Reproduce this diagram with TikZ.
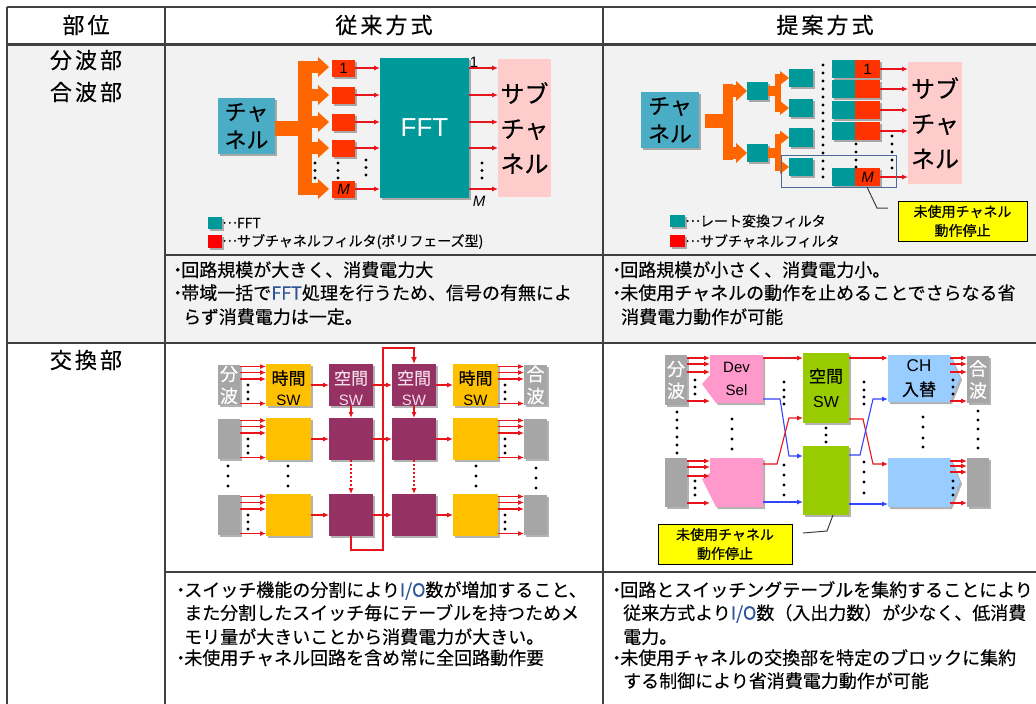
\documentclass[tikz,border=0pt]{standalone}
\usepackage{fontspec}
\setmainfont{Noto Sans CJK JP}[FakeBold=0.35]
\newfontfamily\hdrfont{Noto Sans CJK JP}[LetterSpace=14,FakeBold=0.35]
\newfontfamily\lat{Liberation Sans}
\usetikzlibrary{arrows.meta,shadows}
\definecolor{chanblue}{HTML}{4BACC6}
\definecolor{tealc}{HTML}{009999}
\definecolor{redbox}{HTML}{FF3300}
\definecolor{orng}{HTML}{FF6600}
\definecolor{pinkc}{HTML}{FFCCCC}
\definecolor{arrred}{HTML}{E8141C}
\definecolor{arrblue}{HTML}{3344FF}
\definecolor{timec}{HTML}{FFC000}
\definecolor{spacec}{HTML}{953163}
\definecolor{spacetxt}{HTML}{F4DCE8}
\definecolor{grayc}{HTML}{A6A6A6}
\definecolor{greenc}{HTML}{99CC00}
\definecolor{devc}{HTML}{FF99CC}
\definecolor{chc}{HTML}{99CCFF}
\definecolor{yel}{HTML}{FFFF00}
\definecolor{bgg}{HTML}{F2F2F2}
\definecolor{linec}{HTML}{404040}
\definecolor{selc}{HTML}{4A6A9A}
\definecolor{iotxt}{HTML}{2F5597}
\newcommand\boxat[7]{\node[#1,minimum width={(#5)-(#3)},minimum height={(#6)-(#4)}] (#2) at ({((#3)+(#5))/2},{((#4)+(#6))/2}) {#7};}
\newcommand\dotcol[2]{\foreach \yy in {#2}{\fill[black] (#1,\yy) circle (1.7pt);}}
\newcommand\bul{\kern-0.25em・\kern-0.3em}
\newcommand\mell{\raisebox{0.32em}{…}}
\newcommand\fs[2]{\fontsize{#1pt}{#2pt}\selectfont}
\tikzset{
  bx/.style={inner sep=0pt,outer sep=0pt,align=center},
  sh/.style={drop shadow={shadow xshift=2pt,shadow yshift=-2pt,opacity=0.3,fill=black}},
  arr/.style={draw=arrred,line width=1.1pt,-{Latex[length=6pt,width=5pt]}},
  barr/.style={draw=arrblue,line width=1.1pt,-{Latex[length=6pt,width=5pt]}},
  txt/.style={inner sep=0pt,anchor=base west,font=\fs{18}{21}},
  hdr/.style={inner sep=0pt,font=\hdrfont\fs{22}{32},align=center},
  lab/.style={inner sep=0pt,align=center},
}
\begin{document}
\begin{tikzpicture}[x=1pt,y=-1pt]
\useasboundingbox (0,0) rectangle (1036,704);
\fill[white] (0,0) rectangle (1036,704);
\fill[bgg] (7,44) rectangle (1040,343);
% table lines
\draw[linec,line width=1.5pt] (7,7) -- (1040,7);
\draw[linec,line width=3pt] (7,44) -- (1040,44);
\draw[linec,line width=1.2pt] (165,255) -- (1040,255);
\draw[linec,line width=1.5pt] (7,343) -- (1040,343);
\draw[linec,line width=1.2pt] (165,572) -- (1040,572);
\draw[linec,line width=1.5pt] (7,7) -- (7,710);
\draw[linec,line width=1.5pt] (165,7) -- (165,710);
\draw[linec,line width=1.5pt] (603,7) -- (603,710);
% headers
\node[hdr] (h1) at (86,25) {部位};
\node[hdr] (h2) at (384,25) {従来方式};
\node[hdr] (h3) at (825,25) {提案方式};
\node[hdr] (r1) at (86,76) {分波部\\合波部};
\node[hdr] (r2) at (86,360) {交換部};

% ===== upper left: conventional demux =====
\boxat{bx,fill=chanblue,sh,font=\fs{22}{28}}{ch1}{218}{98}{275}{154}{チャ\\ネル}
\fill[orng] (ch1.east |- 0,121) rectangle (312,136);
\fill[orng] (298,61) rectangle (312,195);
\foreach \yl in {67,95,122,148,189}{
  \fill[orng] (311,\yl-6) rectangle (318,\yl+6);
  \fill[orng] (318,\yl-10) -- (329,\yl) -- (318,\yl+10) -- cycle;
}
\boxat{bx,fill=tealc,sh,text=white,font=\lat\fs{26}{28}}{fft}{380}{58}{469}{198}{FFT}
\boxat{bx,fill=pinkc,font=\fs{24}{35}}{sub1}{498}{59}{551}{197}{サブ\\チャ\\ネル}
\foreach \yl/\nm/\tx in {68/f1/1,95/f2/,122/f3/,148/f4/,189/fM/\textit{M}}{
  \boxat{bx,fill=redbox,sh,font=\lat\fs{15}{16}}{\nm}{332}{\yl-8.5}{355}{\yl+8.5}{\tx}
  \draw[arr] (\nm.east) -- (fft.west |- \nm.east);
  \draw[arr] (fft.east |- \nm.east) -- (sub1.west |- \nm.east);
}
\node[lab,font=\lat\fs{15}{16}] (o1) at (474,62) {1};
\node[lab,font=\lat\fs{15}{16}] (oM) at (479,201) {\textit{M}};
\dotcol{315}{163,170.5,178}
\dotcol{338}{163,170.5,178}
\dotcol{366}{160,167.5,175}
\dotcol{482}{163,170.5,178}
\boxat{bx,fill=tealc,sh}{lg1}{208}{217}{222}{229}{}
\node[inner sep=0pt,anchor=west,font=\fs{14}{16}] (lg1t) at (lg1.east) {\mell FFT};
\boxat{bx,fill=red,sh}{lg2}{208}{235}{222}{248}{}
\node[inner sep=0pt,anchor=west,font=\fs{14}{16}] (lg2t) at (lg2.east) {\mell サブチャネルフィルタ(ポリフェーズ型)};

% ===== upper right: proposed demux =====
\boxat{bx,fill=chanblue,sh,font=\fs{22}{28}}{ch2}{641}{92}{699}{148}{チャ\\ネル}
\fill[orng] (705,114) rectangle (733,128);
\fill[orng] (723,84) rectangle (733,160);
\foreach \yl in {91,153}{
  \fill[orng] (732,\yl-6) rectangle (736,\yl+6);
  \fill[orng] (736,\yl-10) -- (747,\yl) -- (736,\yl+10) -- cycle;
}
\boxat{bx,fill=tealc,sh}{a1}{747}{82}{768}{100}{}
\boxat{bx,fill=tealc,sh}{a2}{747}{144}{768}{162}{}
\foreach \ya/\yb/\yc in {91/78/108,153/137.5/167}{
  \fill[orng] (768,\ya-5) rectangle (781,\ya+5);
  \fill[orng] (775,\yb-4) rectangle (781,\yc+4);
  \fill[orng] (780,\yb-7) -- (789,\yb) -- (780,\yb+7) -- cycle;
  \fill[orng] (780,\yc-7) -- (789,\yc) -- (780,\yc+7) -- cycle;
}
\boxat{bx,fill=tealc,sh}{b1}{789}{69}{813}{87}{}
\boxat{bx,fill=tealc,sh}{b2}{789}{99}{813}{117}{}
\boxat{bx,fill=tealc,sh}{b3}{789}{128}{813}{147}{}
\boxat{bx,fill=tealc,sh}{b4}{789}{158}{813}{176}{}
\dotcol{823}{65,73,...,178}
\boxat{bx,fill=pinkc,font=\fs{24}{35}}{sub2}{908}{62}{962}{184}{サブ\\チャ\\ネル}
\foreach \i/\ya/\yb/\tx in {1/60/78/1,2/80/98/,3/101/119/,4/122/140/,5/168/186/\textit{M}}{
  \boxat{bx,fill=tealc,sh}{s\i}{832}{\ya}{855}{\yb}{}
  \boxat{bx,fill=redbox,sh,font=\lat\fs{15}{16}}{q\i}{855}{\ya}{880}{\yb}{\tx}
  \draw[arr] (q\i.east) -- (sub2.west |- q\i.east);
}
\dotcol{856}{144,152,160,167}
\dotcol{892}{136,144,152,160,168}
\boxat{bx,draw=selc,line width=1pt}{sel}{781}{155}{896}{187}{}
\boxat{bx,fill=yel,draw=black,line width=0.8pt,font=\fs{14}{19}}{call1}{898}{201}{1027}{241}{未使用チャネル\\動作停止}
\coordinate (k1) at (888,208);
\draw[linec,line width=1pt] (sel.south -| 867,0) -- (877,208) -- (k1);
\boxat{bx,fill=tealc,sh}{lg3}{670}{215}{685}{227}{}
\node[inner sep=0pt,anchor=west,font=\fs{14}{16}] (lg3t) at (lg3.east) {\mell レート変換フィルタ};
\boxat{bx,fill=red,sh}{lg4}{670}{235}{685}{247}{}
\node[inner sep=0pt,anchor=west,font=\fs{14}{16}] (lg4t) at (lg4.east) {\mell サブチャネルフィルタ};

% ===== text, upper row =====
\node[txt] (u1) at (173,276.6) {\bul 回路規模が大きく、消費電力大};
\node[txt] (u2) at (173,299.6) {\bul 帯域一括で{\color{iotxt}FFT}処理を行うため、信号の有無によ};
\node[txt] (u3) at (183,323.6) {らず消費電力は一定。};
\node[txt] (v1) at (612,276.6) {\bul 回路規模が小さく、消費電力小。};
\node[txt] (v2) at (612,299.6) {\bul 未使用チャネルの動作を止めることでさらなる省};
\node[txt] (v3) at (621,323.6) {消費電力動作が可能};

% ===== lower left: conventional switch =====
\foreach \r/\t in {1/364,2/418,3/494}{
  \boxat{bx,fill=grayc,sh}{gA\r}{218}{\t+1}{240}{\t+41}{}
  \boxat{bx,fill=timec,sh}{tA\r}{266}{\t}{311}{\t+42}{}
  \boxat{bx,fill=spacec,sh}{sA\r}{329}{\t}{373}{\t+42}{}
  \boxat{bx,fill=spacec,sh}{sB\r}{392}{\t}{436}{\t+42}{}
  \boxat{bx,fill=timec,sh}{tB\r}{453}{\t}{498}{\t+42}{}
  \boxat{bx,fill=grayc,sh}{gB\r}{524}{\t+1}{547}{\t+41}{}
  \foreach \o in {2.5,8.5,15,39.5}{
    \draw[arr] (gA\r.east |- 0,\t+\o) -- (tA\r.west |- 0,\t+\o);
    \draw[arr] (tB\r.east |- 0,\t+\o) -- (gB\r.west |- 0,\t+\o);
  }
  \dotcol{248}{\t+21,\t+28,\t+35}
  \dotcol{505}{\t+21,\t+28,\t+35}
  \draw[arr] (tA\r.east) -- (sA\r.west);
  \draw[arr] (sA\r.east) -- (sB\r.west);
  \draw[arr] (sB\r.east) -- (tB\r.west);
}
\node[lab,text=white,font=\fs{18}{22}] (gAl) at (gA1) {分\\波};
\node[lab,text=white,font=\fs{18}{22}] (gBl) at (gB1) {合\\波};
\node[lab,font=\fs{17}{21}] (tAl) at (288.5,388) {時間\\{\lat\fs{15}{21}SW}};
\node[lab,font=\fs{17}{21},text=spacetxt] (sAl) at (351,388) {空間\\{\lat\fs{15}{21}SW}};
\node[lab,font=\fs{17}{21},text=spacetxt] (sBl) at (414,388) {空間\\{\lat\fs{15}{21}SW}};
\node[lab,font=\fs{17}{21}] (tBl) at (475.5,388) {時間\\{\lat\fs{15}{21}SW}};
\draw[arr] (sA1.south) -- (sA2.north);
\draw[arr] (sB1.south) -- (sB2.north);
\draw[arr,dash pattern=on 2pt off 2pt] (sA2.south) -- (sA3.north);
\draw[arr,dash pattern=on 2pt off 2pt] (sB2.south) -- (sB3.north);
\draw[draw=arrred,line width=2pt,-{Latex[length=7pt,width=6pt]}] (sA3.south) -- (sA3.south |- 0,550) -- (383,550) -- (383,348) -- (sB1.north |- 0,348) -- (sB1.north);
\foreach \xx in {228,288,476}{\dotcol{\xx}{466,476,486}}
\dotcol{536}{468,478,488}

% ===== lower right: proposed switch =====
\boxat{bx,fill=grayc,sh}{gC1}{665}{355}{687}{405}{}
\boxat{bx,fill=grayc,sh}{gC2}{665}{458}{687}{507}{}
\boxat{bx,fill=grayc,sh}{gD1}{967}{356}{989}{403}{}
\boxat{bx,fill=grayc,sh}{gD2}{967}{458}{989}{507}{}
\node[lab,text=white,font=\fs{18}{22}] (gCl) at (gC1) {分\\波};
\node[lab,text=white,font=\fs{18}{22}] (gDl) at (gD1) {合\\波};
\fill[devc,sh] (710,355) -- (763,355) -- (763,403) -- (716,403) -- (702,384) -- (710,375) -- cycle;
\fill[devc,sh] (710,458) -- (763,458) -- (763,507) -- (716,507) -- (702,479) -- (710,473) -- cycle;
\boxat{bx,font=\lat\fs{15}{23}}{dv1}{710}{355}{763}{403}{Dev\\Sel}
\boxat{bx}{dv2}{710}{458}{763}{507}{}
\boxat{bx,fill=greenc,sh,font=\fs{17}{25}}{gr1}{803}{353}{849}{423}{空間\\{\lat\fs{16}{25}SW}}
\boxat{bx,fill=greenc,sh}{gr2}{803}{446}{849}{515}{}
\fill[chc,sh] (888,355) -- (950,355) -- (960,378) -- (950,402) -- (888,402) -- cycle;
\fill[chc,sh] (888,458) -- (950,458) -- (960,482) -- (950,507) -- (888,507) -- cycle;
\boxat{bx,font=\fs{17}{24}}{chn1}{888}{355}{950}{402}{{\lat CH}\\入替}
\boxat{bx}{chn2}{888}{458}{950}{507}{}
\foreach \yy in {358,364,372,401}{
  \draw[arr] (gC1.east |- 0,\yy) -- (dv1.west |- 0,\yy);
  \draw[arr] (chn1.east |- 0,\yy) -- (gD1.west |- 0,\yy);
}
\foreach \yy in {461,467,476,503}{\draw[arr] (gC2.east |- 0,\yy) -- (dv2.west |- 0,\yy);}
\foreach \yy in {461,466,472,503}{\draw[arr] (chn2.east |- 0,\yy) -- (gD2.west |- 0,\yy);}
\dotcol{695}{380,387,394}
\dotcol{695}{481,488,495}
\dotcol{953}{380,387,394}
\dotcol{953}{481,488,495}
\draw[arr] (dv1.east |- 0,358) -- (gr1.west |- 0,358);
\draw[barr] (dv1.east |- 0,399) -- (780,399) -- (789,456) -- (gr2.west |- 0,456);
\draw[arr] (dv2.east |- 0,464) -- (777,464) -- (789,418) -- (gr1.west |- 0,418);
\draw[barr] (dv2.east |- 0,502) -- (gr2.west |- 0,502);
\draw[arr] (gr1.east |- 0,358) -- (chn1.west |- 0,358);
\draw[arr] (gr1.east |- 0,419) -- (863,419) -- (873,464) -- (chn2.west |- 0,464);
\draw[barr] (gr2.east |- 0,455) -- (860,455) -- (873,399) -- (chn1.west |- 0,399);
\draw[barr] (gr2.east |- 0,504) -- (chn2.west |- 0,504);
\dotcol{677}{412,420,428,437,445,453}
\dotcol{732}{419,429,439,449}
\dotcol{784}{382,390,397,404}
\dotcol{784}{465,475,485,495}
\dotcol{826}{428,435,442}
\dotcol{864}{382,390,397,404}
\dotcol{864}{462,472,482,493}
\dotcol{923}{417,427,438,447}
\dotcol{978}{411,420,429,439,448}
\boxat{bx,fill=yel,draw=black,line width=0.8pt,font=\fs{14}{19}}{call2}{658}{524}{792}{564}{未使用チャネル\\動作停止}
\coordinate (k2) at (803,533);
\draw[linec,line width=1pt] (gr2.south -| 833,0) -- (827,531) -- (k2);

% ===== text, lower row =====
\node[txt] (w1) at (176,596.6) {\bul スイッチ機能の分割により{\color{iotxt}I/O}数が増加すること、};
\node[txt] (w2) at (184,619.6) {また分割したスイッチ毎にテーブルを持つためメ};
\node[txt] (w3) at (184,643.6) {モリ量が大きいことから消費電力が大きい。};
\node[txt] (w4) at (176,664.6) {\bul 未使用チャネル回路を含め常に全回路動作要};
\node[txt] (z1) at (612,596.6) {\bul 回路とスイッチングテーブルを集約することにより};
\node[txt] (z2) at (623,619.6) {従来方式より{\color{iotxt}I/O}数（入出力数）が少なく、低消費};
\node[txt] (z3) at (623,643.6) {電力。};
\node[txt] (z4) at (612,664.6) {\bul 未使用チャネルの交換部を特定のブロックに集約};
\node[txt] (z5) at (623,687.6) {する制御により省消費電力動作が可能};
\end{tikzpicture}
\end{document}
